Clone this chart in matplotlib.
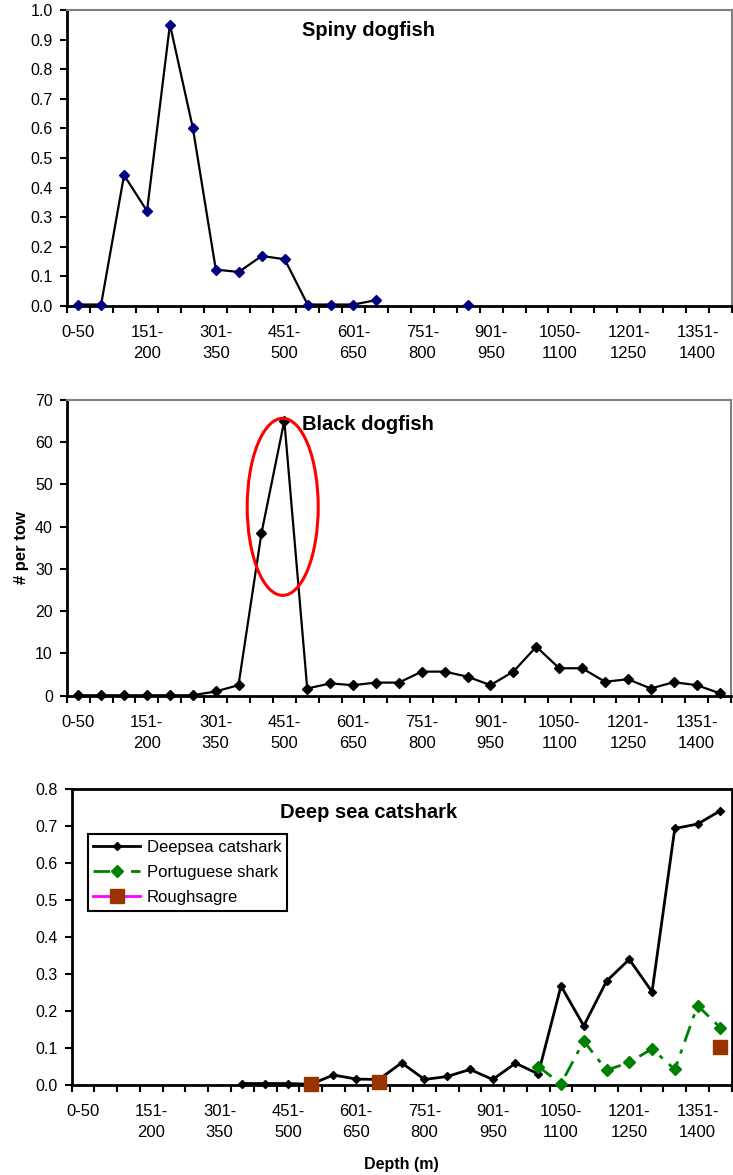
import numpy as np
import matplotlib.pyplot as plt
from matplotlib.patches import Ellipse
from matplotlib.transforms import ScaledTranslation

plt.rcParams['font.family'] = ['Liberation Sans', 'DejaVu Sans']

nan = np.nan

# depth classes (m)
depths = ["0-50", "51-100", "101-150", "151-200", "201-250", "251-300", "301-350",
          "351-400", "401-450", "451-500", "501-550", "551-600", "601-650", "651-700",
          "701-750", "751-800", "801-850", "851-900", "901-950", "951-1000", "1001-1050",
          "1050-1100", "1101-1150", "1151-1200", "1201-1250", "1251-1300", "1301-1350",
          "1351-1400", "1401-1450"]

spiny_dogfish = [0.005, 0.005, 0.442, 0.321, 0.951, 0.601, 0.123, 0.115, 0.169, 0.158,
                 0.005, 0.005, 0.005, 0.02, nan, nan, nan, 0.005, nan, nan, nan,
                 nan, nan, nan, nan, nan, nan, nan, nan]

black_dogfish = [0.1, 0.1, 0.1, 0.1, 0.1, 0.1, 1.0, 2.5, 38.4, 65.1, 1.7, 2.9, 2.5,
                 3.1, 3.1, 5.7, 5.7, 4.5, 2.5, 5.7, 11.6, 6.5, 6.5, 3.3, 3.9, 1.7, 3.2,
                 2.5, 0.6]

deepsea_catshark = [nan, nan, nan, nan, nan, nan, nan, 0.004, 0.004, 0.004, 0.002, 0.027,
                    0.016, 0.015, 0.06, 0.015, 0.023, 0.042, 0.015, 0.059, 0.03, 0.268,
                    0.16, 0.281, 0.34, 0.252, 0.694, 0.706, 0.742]

portuguese_shark = [nan] * 20 + [0.05, 0.003, 0.119, 0.04, 0.061, 0.098, 0.042, 0.215, 0.155]

roughsagre = [nan] * 10 + [0.003, nan, nan, 0.007] + [nan] * 14 + [0.102]

x = np.arange(len(depths))
tick_idx = list(range(0, len(depths) - 1, 3))
tick_labels = [depths[i] if i == 0 else depths[i].replace("-", "-\n") for i in tick_idx]

W, H = 733, 1175
fig = plt.figure(figsize=(W / 100, H / 100), dpi=100)
shift = ScaledTranslation(3 / 100, 0, fig.dpi_scale_trans)


def px_axes(left, right, top, bottom):
    return fig.add_axes([left / W, 1 - bottom / H, (right - left) / W, (bottom - top) / H])


def style(ax, ymax, ystep, fmt, edge):
    ax.set_xlim(-0.5, len(depths) - 0.5)
    ax.set_ylim(0, ymax)
    ax.set_yticks(np.arange(0, ymax + ystep / 2, ystep))
    ax.yaxis.set_major_formatter(plt.FormatStrFormatter(fmt))
    ax.set_xticks(tick_idx)
    ax.set_xticklabels(tick_labels, linespacing=1.45)
    for lab in ax.get_xticklabels():
        lab.set_transform(lab.get_transform() + shift)
    ax.set_xticks(np.arange(-0.5, len(depths)), minor=True)
    ax.tick_params(axis='x', which='major', length=0, pad=14, labelsize=12)
    ax.tick_params(axis='x', which='minor', length=5, width=1.5, direction='out')
    ax.tick_params(axis='y', length=5, width=1.5, direction='out', pad=5, labelsize=11.5)
    for s in ['left', 'bottom']:
        ax.spines[s].set_linewidth(2)
        ax.spines[s].set_color('black')
    for s in ['top', 'right']:
        ax.spines[s].set_linewidth(1.5)
        ax.spines[s].set_color(edge)


# Spiny dogfish
ax1 = px_axes(66.7, 732, 10, 306)
ax1.plot(x, spiny_dogfish, color='black', lw=1.6, marker='D', ms=5.5,
         mfc='#000080', mec='#000080', clip_on=False, zorder=3)
style(ax1, 1.0, 0.1, '%.1f', '#808080')
ax1.text((368.8 - 66.7) / (732 - 66.7), 1 - (30.7 - 10) / 296, "Spiny dogfish",
         transform=ax1.transAxes, ha='center', va='center', fontsize=14.5, fontweight='bold')

# Black dogfish
ax2 = px_axes(66.7, 731, 400, 695.7)
ax2.plot(x, black_dogfish, color='black', lw=1.6, marker='D', ms=5.5,
         clip_on=False, zorder=3)
style(ax2, 70, 10, '%d', '#808080')
ax2.set_ylabel("# per tow", fontsize=12, fontweight='bold', labelpad=4)
ax2.text((367.7 - 66.7) / (731 - 66.7), 1 - (425 - 400) / 295.7, "Black dogfish",
         transform=ax2.transAxes, ha='center', va='center', fontsize=14.5, fontweight='bold')
ax2.add_patch(Ellipse((8.93, 44.7), width=3.1, height=41.9, fill=False,
                      edgecolor='red', lw=2.2, zorder=4))

# Deep sea catshark
ax3 = px_axes(71.7, 731.7, 789.3, 1085)
ax3.plot(x, deepsea_catshark, color='black', lw=2, marker='D', ms=4.5,
         clip_on=False, zorder=3, label="Deepsea catshark")
ax3.plot(x, portuguese_shark, color='#008000', lw=2, ls=(0, (6, 3, 1.5, 3)), marker='D',
         ms=6.5, clip_on=False, zorder=3, label="Portuguese shark")
ax3.plot(x, roughsagre, color='#ff00ff', lw=2, marker='s', ms=9.5, mfc='#993300',
         mec='#993300', clip_on=False, zorder=4, label="Roughsagre")
style(ax3, 0.8, 0.1, '%.1f', 'black')
ax3.spines['top'].set_linewidth(2)
ax3.spines['right'].set_linewidth(2)
ax3.set_xlabel("Depth (m)", fontsize=11.5, fontweight='bold', labelpad=12)
ax3.text((368.7 - 71.7) / 660, 1 - (812.7 - 789.3) / 295.7, "Deep sea catshark",
         transform=ax3.transAxes, ha='center', va='center', fontsize=14.5, fontweight='bold')
leg = ax3.legend(loc='upper left', bbox_to_anchor=(0.024, 0.849), borderaxespad=0,
                 fontsize=12, handlelength=2.8, fancybox=False, framealpha=1,
                 edgecolor='black', borderpad=0.35, labelspacing=0.6, handletextpad=0.4)
leg.get_frame().set_linewidth(1.5)

plt.savefig("out.png", dpi=100)
plt.close()
